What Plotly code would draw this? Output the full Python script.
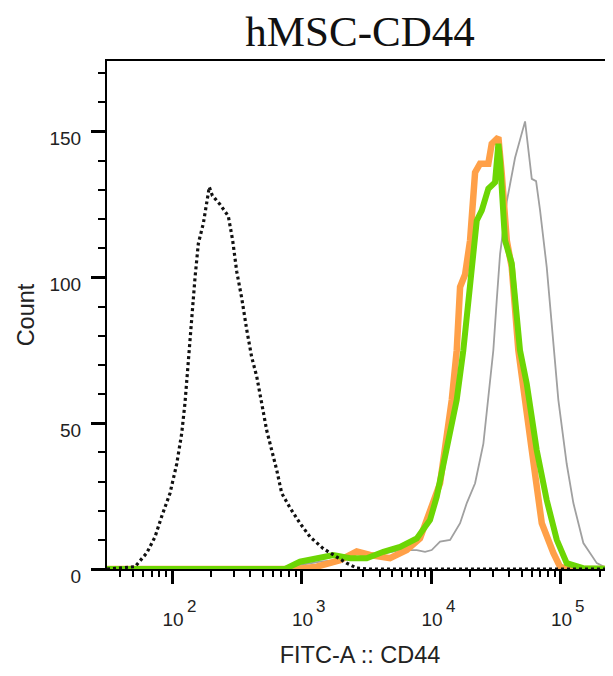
import math
import plotly.graph_objects as go

# isotype control (dotted black)
iso_x = [31.5, 51.8, 63.8, 73.9, 83.2, 96.5, 108.7, 118.8, 126, 131, 137.7, 144.5, 150.6,
         159.7, 174.5, 194, 205, 214.8, 234.9, 272, 294, 316, 345, 377.6, 412, 451, 493,
         538, 588, 643, 703, 815, 973, 1164, 1473, 1870, 2234, 2668, 3200, 254000]
iso_y = [0, 0.8, 5.5, 11, 18, 26, 36, 46.5, 57, 67, 79.5, 90, 100,
         111.6, 118.5, 131, 128, 127, 125, 121, 112.7, 102, 93, 82, 72.7, 66, 57,
         47.6, 40.8, 34, 26, 21, 15.7, 11, 7, 4.2, 2, 0.3, 0, 0]

# grey sample
grey_x = [31.5, 746, 1390, 2371, 4040, 5765, 7762, 8995, 10120, 11740, 14030, 16760, 18880,
          21880, 25360, 27700, 30270, 32140, 34120, 38440, 44540, 53220, 59960, 64730,
          69480, 78220, 87980, 96150, 111600, 125600, 150000, 190500, 227600, 254300]
grey_y = [0, 0.5, 2.5, 3.5, 5, 6.5, 6.5, 5.9, 6.5, 9.4, 10, 15.7, 22.6,
          29.4, 43, 58, 75, 92, 108, 126, 141, 153.5, 133.8, 133,
          123, 103.5, 78, 58, 36, 22.6, 8.9, 2, 0.3, 0]

# orange sample
orange_x = [31.5, 918, 1309, 1982, 2668, 3378, 4822, 6490, 8222, 10420, 11740, 14460, 15790,
            16760, 18320, 20020, 21220, 21880, 23890, 27700, 29420, 33110, 35150, 38440,
            41980, 44540, 47230, 59960, 71620, 87980, 99080, 112200, 254300]
orange_y = [0, 0, 0.8, 3, 6, 4.8, 3.7, 6.5, 10.5, 23.6, 29.4, 58, 75,
            96.7, 101, 112.7, 126, 136, 139, 139, 145.8, 148, 135.6, 112.7,
            103.5, 92, 75, 40.8, 15.7, 5.5, 0.8, 0, 0]

# green sample
green_x = [31.5, 746, 973, 1309, 1759, 2371, 3186, 4285, 5765, 7762, 9820, 11070, 12450,
           14030, 15790, 17750, 19400, 21220, 22550, 24660, 27700, 31190, 33110, 34120,
           37240, 41980, 44540, 48640, 54790, 65440, 78220, 93510, 111600, 149200, 254300]
green_y = [0, 0, 2.5, 3.7, 4.8, 3.7, 3.7, 5.9, 7.6, 10.5, 16.8, 24.8, 35,
           47.6, 58, 75, 92, 105.8, 119.5, 123, 130.4, 132.6, 145.8, 140,
           112.7, 104.8, 92, 75, 63.6, 40.8, 23.6, 10, 2, 0.3, 0]

x_major = [100, 1000, 10000, 100000]
x_exponents = ["2", "3", "4", "5"]
x_minor = [m * 10 ** e for e in range(1, 6) for m in range(2, 10) if 40 <= m * 10 ** e <= 200000]

fig = go.Figure()
fig.add_trace(go.Scatter(x=grey_x, y=grey_y, mode="lines",
                         line=dict(color="#a0a0a0", width=1.8)))
fig.add_trace(go.Scatter(x=orange_x, y=orange_y, mode="lines",
                         line=dict(color="#ffa048", width=6.5)))
fig.add_trace(go.Scatter(x=green_x, y=green_y, mode="lines",
                         line=dict(color="#6cd604", width=6)))
fig.add_trace(go.Scatter(x=iso_x, y=iso_y, mode="lines",
                         line=dict(color="#111", width=3.2, dash="3px,3px")))

# exponents of the decade labels, raised well above the "10"
# (annotations on a log axis take log10 positions)
for v, e in zip(x_major, x_exponents):
    fig.add_annotation(x=math.log10(v), xref="x", y=0, yref="paper", text=e, showarrow=False,
                       xanchor="center", yanchor="middle", xshift=19, yshift=-37,
                       font=dict(size=17, color="#222"))

# the page has an 8px body margin, so the figure is drawn 8px in from the window
fig.update_layout(
    width=605, height=660,
    margin=dict(l=99, r=0, t=53, b=99, autoexpand=False),
    paper_bgcolor="white", plot_bgcolor="white",
    showlegend=False,
    font=dict(family="Liberation Sans, Arial", color="#222"),
    title=dict(text="hMSC-CD44", x=0.5, xref="paper", xanchor="center",
               y=0.965, yref="container", yanchor="middle", automargin=False,
               font=dict(family="Liberation Serif, Times New Roman", size=43, color="#111")),
)
fig.update_xaxes(
    type="log", range=[1.498, 5.405], automargin=False,
    showline=True, linecolor="black", linewidth=2, mirror=True,
    showgrid=False, zeroline=False,
    tickmode="array", tickvals=x_major, ticktext=["10"] * len(x_major),
    ticks="outside", ticklen=13, tickwidth=3, tickcolor="black",
    tickfont=dict(size=19), ticklabelstandoff=19, ticklabelshift=1,
    minor=dict(tickvals=x_minor, ticks="outside", ticklen=6, tickwidth=1.5, tickcolor="black"),
    title=dict(text="FITC-A :: CD44", font=dict(size=23.5), standoff=36),
)
fig.update_yaxes(
    range=[0, 174.2], automargin=False,
    showline=True, linecolor="black", linewidth=2,
    showgrid=False, zeroline=False,
    tickmode="linear", tick0=0, dtick=50,
    ticks="outside", ticklen=14, tickwidth=3, tickcolor="black",
    tickfont=dict(size=19), ticklabelstandoff=6, ticklabelshift=7,
    minor=dict(dtick=10, ticks="outside", ticklen=7, tickwidth=2, tickcolor="black"),
    title=dict(text="Count", font=dict(size=23.5), standoff=8),
)

fig.write_html("out.html")
